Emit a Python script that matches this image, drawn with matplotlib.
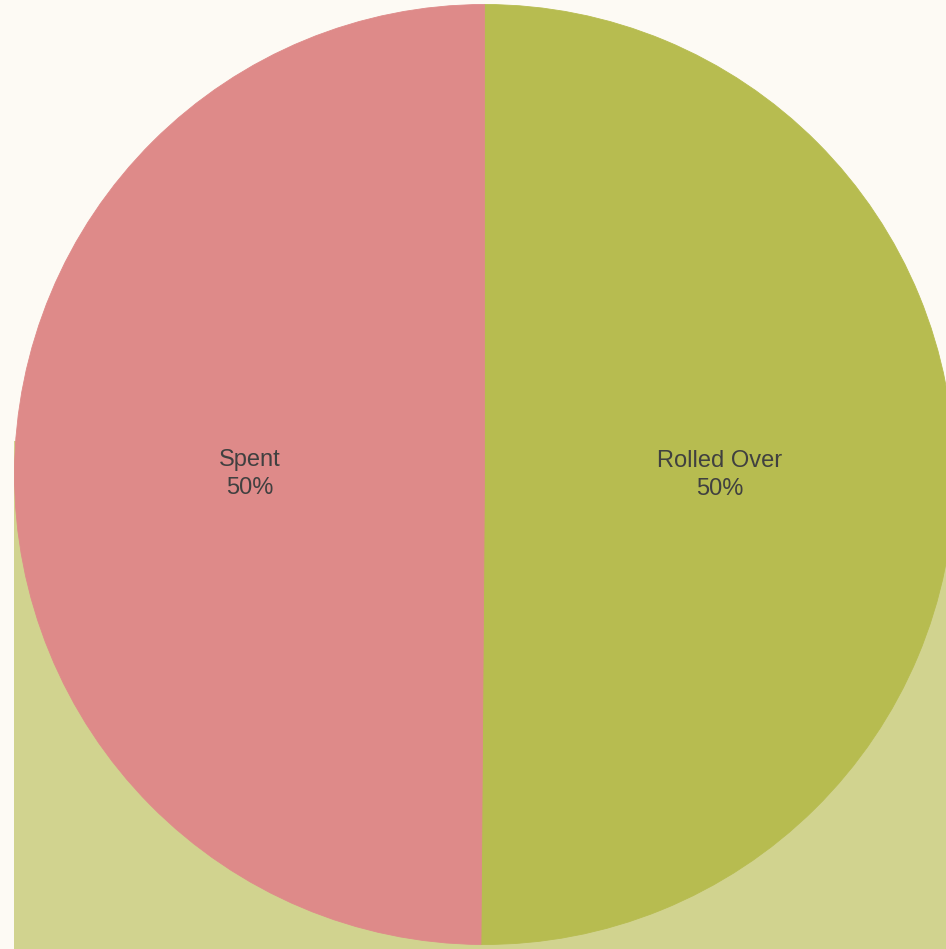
import matplotlib
matplotlib.use("Agg")
import matplotlib.pyplot as plt
from matplotlib.patches import Rectangle

labels = ["Rolled Over", "Spent"]
values = [50.12, 49.88]
colors = ["#B7BC50", "#DE8A89"]

W, H = 946, 949
fig = plt.figure(figsize=(W / 100, H / 100), dpi=100)
fig.patch.set_facecolor("#FDFAF4")

ax = fig.add_axes([0, 0, 1, 1])
ax.set_facecolor("none")

# green block behind the lower half
ax.add_patch(Rectangle((14, 0), W - 14, H - 441, facecolor="#D1D38F",
                       edgecolor="none", zorder=0))

wedges, texts = ax.pie(values, colors=colors, startangle=90, counterclock=False,
                       center=(484.5, H - 474.5), radius=470,
                       labels=[f"{l}\n{round(v)}%" for l, v in zip(labels, values)],
                       labeldistance=0.5,
                       textprops=dict(color="#404040", fontsize=17,
                                      family="Liberation Sans", ha="center",
                                      va="center", linespacing=1.35),
                       wedgeprops=dict(linewidth=0.6, zorder=2))
for w, c in zip(wedges, colors):
    w.set_edgecolor(c)
ax.set_aspect("auto")
ax.set_xlim(0, W)
ax.set_ylim(0, H)
ax.axis("off")

fig.savefig("out.png", dpi=100, facecolor=fig.get_facecolor())
